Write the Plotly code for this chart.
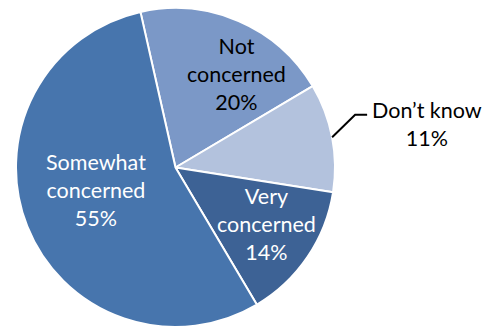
import math
import plotly.graph_objects as go

labels = ["Not concerned", "Don\u2019t know", "Very concerned", "Somewhat concerned"]
values = [20, 11, 14, 55]
colors = ["#7b98c7", "#b3c2dd", "#3d6295", "#4775ad"]
text_colors = ["black", "black", "white", "white"]
# label placement: angle offset from slice middle (deg) and radius fraction
angle_offsets = [10, 0, -2, 6]
radius_fracs = [0.70, 0, 0.67, 0.52]

W, H = 492, 327
cx, cy, R = 175.5, 167.5, 159.5
start = -12.7

fig = go.Figure(go.Pie(
    labels=labels, values=values, sort=False, direction="clockwise",
    rotation=start, marker=dict(colors=colors, line=dict(color="white", width=2)),
    textinfo="none", hoverinfo="label+percent", showlegend=False,
    domain=dict(x=[(cx - R) / W, (cx + R) / W], y=[(H - cy - R) / H, (H - cy + R) / H]),
))

total = sum(values)
acc = 0
font = dict(family="Lato, Carlito, sans-serif", size=21.5)
for i, (lab, v) in enumerate(zip(labels, values)):
    mid = start + (acc + v / 2) / total * 360
    acc += v
    pct = f"{round(v / total * 100)}%"
    if radius_fracs[i] > 0:
        a = math.radians(mid + angle_offsets[i])
        x = cx + radius_fracs[i] * R * math.sin(a)
        y = cy - radius_fracs[i] * R * math.cos(a)
        words = lab.split(" ")
        txt = "<br>".join(words + [pct])
        fig.add_annotation(x=x / W, y=1 - y / H, xref="paper", yref="paper", text=txt,
                           xanchor="center", yanchor="middle",
                           showarrow=False, font=dict(font, color=text_colors[i]),
                           align="center")
    else:
        a = math.radians(mid)
        ex = cx + R * math.sin(a)
        ey = cy - R * math.cos(a)
        kx, ky = ex + 23, ey - 22.5
        hx = kx + 12
        fig.add_shape(type="path", xref="paper", yref="paper",
                      path=f"M {ex / W} {1 - ey / H} L {kx / W} {1 - ky / H} L {hx / W} {1 - ky / H}",
                      line=dict(color="black", width=2))
        fig.add_annotation(x=(hx + 60) / W, y=1 - (ky + 9.5) / H, xref="paper", yref="paper",
                           text=f"{lab}<br>{pct}", showarrow=False,
                           xanchor="center", yanchor="middle",
                           font=dict(font, color=text_colors[i]), align="center")

fig.update_layout(width=W, height=H, margin=dict(l=0, r=0, t=0, b=0),
                  paper_bgcolor="white", plot_bgcolor="white")
fig.write_html("out.html", post_script="document.body.style.margin='0px';",
               config={"displayModeBar": False})
